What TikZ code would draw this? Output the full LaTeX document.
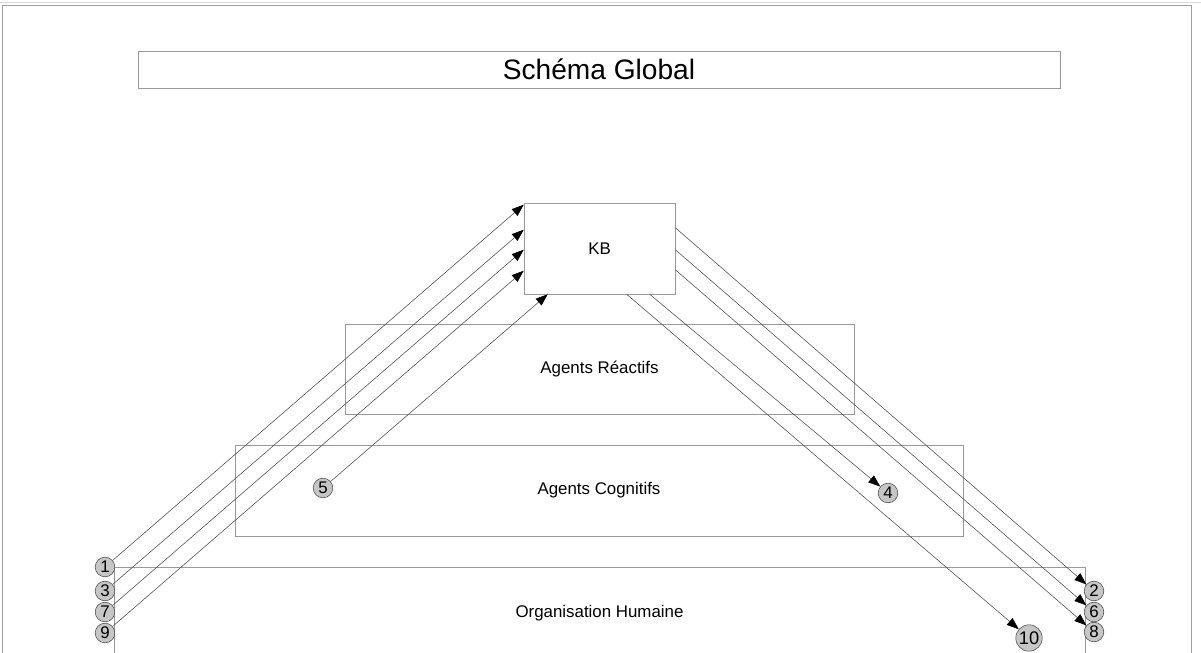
\documentclass[tikz,border=0pt]{standalone}
\usepackage{fontspec}
\setmainfont{Liberation Sans}
\usetikzlibrary{arrows.meta,calc,positioning}

\tikzset{
  bloc/.style={draw=gray!80,rectangle,inner sep=0pt,font=\fontsize{12}{14}\selectfont},
  num/.style={draw=gray!60!black,fill=gray!45,circle,inner sep=0pt,minimum size=0.49cm,font=\fontsize{12}{13}\selectfont},
  fleche/.style={draw=black!70,line width=0.4pt,-{Triangle[length=0.3cm,width=0.22cm,color=black]}}
}

\begin{document}
\begin{tikzpicture}[x=0.025cm,y=-0.025cm]
\useasboundingbox (0,0) rectangle (1201,652);
\clip (0,0) rectangle (1201,652);
% cadre de la page
\draw[gray!30] (0,2) -- (1201,2);
\draw[gray!75] (2,720) -- (2,5) -- (1191,5) -- (1191,720);
% titre
\node[bloc,minimum width=23.05cm,minimum height=0.925cm,font=\fontsize{20}{24}\selectfont] (titre) at (599,69.5) {Schéma Global};
% les niveaux
\node[bloc,minimum width=3.775cm,minimum height=2.275cm] (kb) at (599.5,248.5) {KB};
\node[bloc,minimum width=12.725cm,minimum height=2.25cm] (reactifs) at (599.5,369) {Agents Réactifs};
\node[bloc,minimum width=18.2cm,minimum height=2.275cm] (cognitifs) at (599,490.5) {Agents Cognitifs};
\node[bloc,minimum width=24.275cm,minimum height=2.3cm] (orga) at (599.5,613) {Organisation Humaine};
% numeros
\node[num] (n1) at (105,567) {1};
\node[num] (n3) at (105,591) {3};
\node[num] (n7) at (105,612) {7};
\node[num] (n9) at (105,633) {9};
\node[num] (n5) at (323,488) {5};
\node[num] (n4) at (888,493) {4};
\node[num] (n2) at (1094,591) {2};
\node[num] (n6) at (1094,612) {6};
\node[num] (n8) at (1094,632) {8};
\node[num,minimum size=0.66cm,font=\fontsize{13}{14}\selectfont] (n10) at (1029,638) {10};
% vers KB
\draw[fleche] (n1) -- ($(kb.north west)+(0,2)$);
\draw[fleche] (n3) -- ($(kb.north west)+(0,27)$);
\draw[fleche] (n7) -- ($(kb.north west)+(0,47)$);
\draw[fleche] (n9) -- ($(kb.north west)+(0,68)$);
\draw[fleche] (n5) -- ($(kb.south west)+(24,0)$);
% depuis KB
\draw[fleche] ($(kb.north east)+(0,25)$) -- (n2);
\draw[fleche] ($(kb.north east)+(0,47)$) -- (n6);
\draw[fleche] ($(kb.north east)+(0,67)$) -- (n8);
\draw[fleche] ($(kb.south west)+(126,0)$) -- (n4);
\draw[fleche] ($(kb.south west)+(103,0)$) -- (n10);
\end{tikzpicture}
\end{document}
